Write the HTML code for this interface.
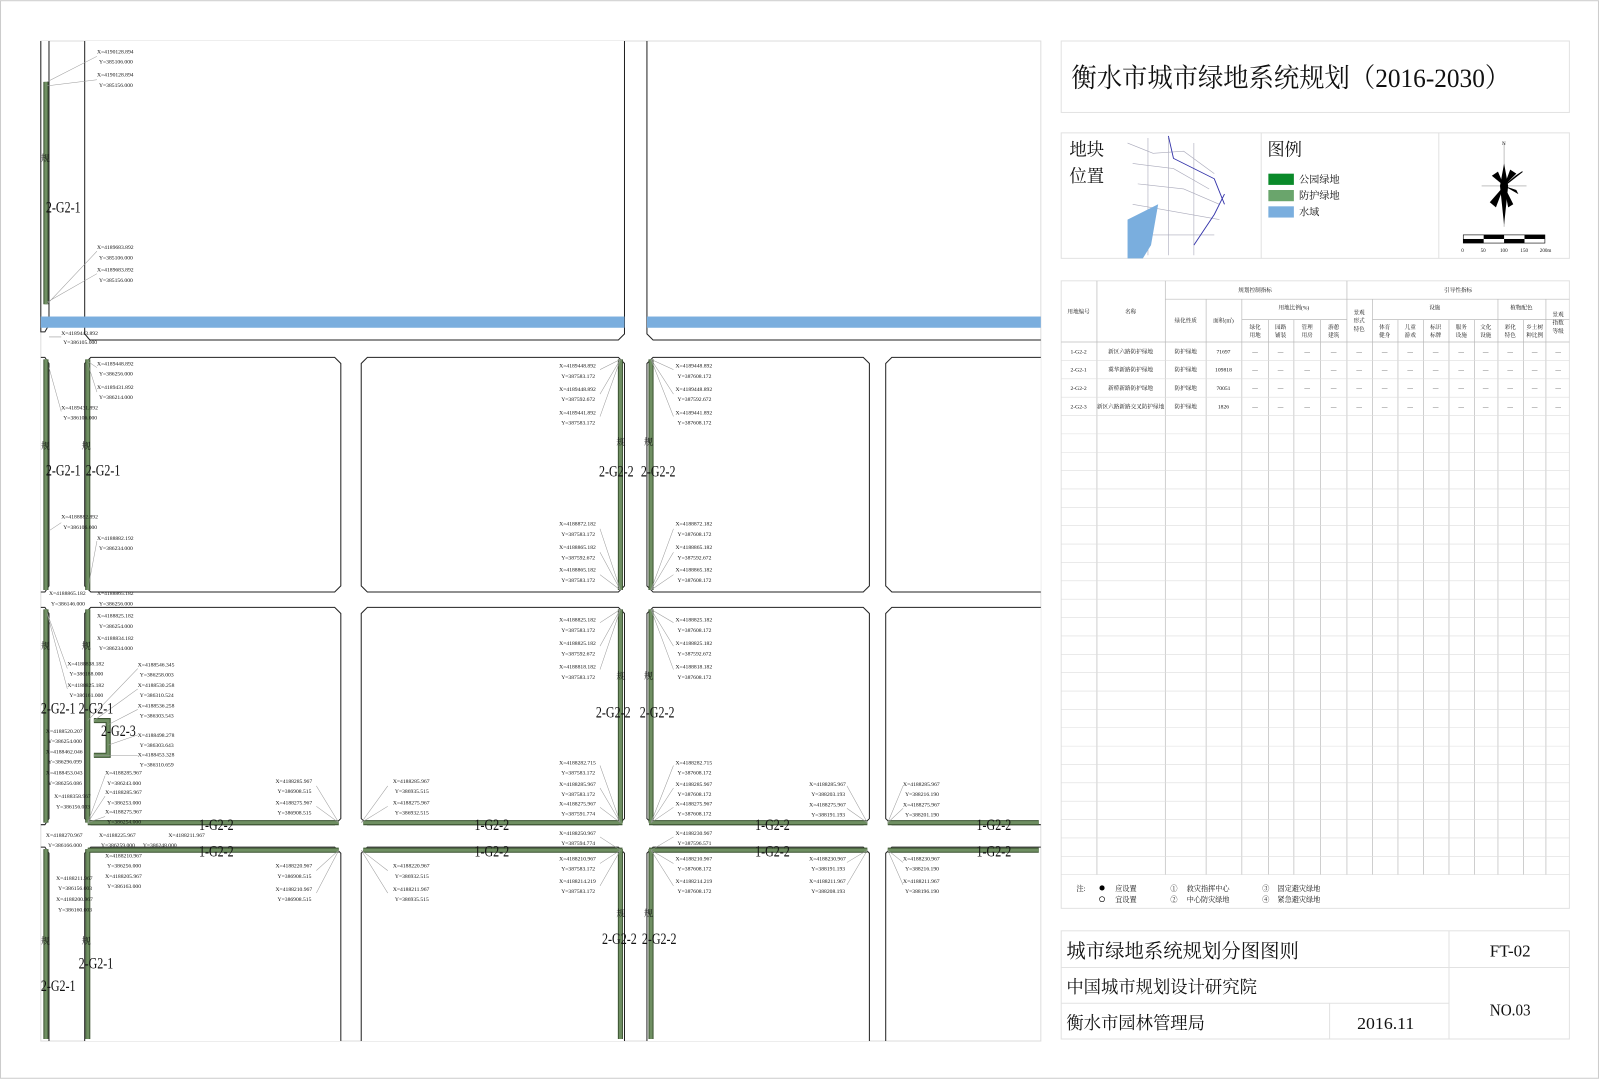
<!DOCTYPE html>
<html><head><meta charset="utf-8"><style>
html,body{margin:0;padding:0;background:#fff;}
svg{display:block;}
text{font-family:"Liberation Serif","Noto Serif CJK SC","Noto Sans CJK SC",serif;fill:#111;}
.c{font-size:5.5px;fill:#333;}
.lb{font-size:15px;}
.g{stroke:#3d5433;stroke-width:5;fill:none;}
.gi{stroke:#6f8f62;stroke-width:3;fill:none;}
.blk{fill:#fff;stroke:#222;stroke-width:1;}
.ld{stroke:#999;stroke-width:0.5;fill:none;}
.t{font-size:5.5px;fill:#333;text-anchor:middle;}
.tl{stroke:#bbb;stroke-width:0.7;}
</style></head><body>
<svg width="1600" height="1080" viewBox="0 0 1568 1058" xmlns="http://www.w3.org/2000/svg">
<rect x="0.5" y="0.5" width="1566" height="1056" fill="#fff" stroke="#ccc"/>
<rect x="40" y="40" width="980" height="980" fill="#fff" stroke="#ddd"/>

<path class="blk" d="M40 40 V325 H44 L48 318 V40"/>
<path class="blk" d="M83 40 V327 L88 333 H606 L612 327 V40"/>
<path class="blk" d="M634 40 V327 L640 333 H1020"/>
<rect x="40" y="310" width="572" height="11" fill="#7aaede"/>
<rect x="634" y="310" width="386" height="11" fill="#7aaede"/>

<path class="blk" d="M40 350 H44 L48 356 V574 L44 580 H40"/>
<path class="blk" d="M89 350 H328 L334 356 V574 L328 580 H89 L83 574 V356 Z"/>
<path class="blk" d="M360 350 H606 L612 356 V574 L606 580 H360 L354 574 V356 Z"/>
<path class="blk" d="M640 350 H846 L852 356 V574 L846 580 H640 L634 574 V356 Z"/>
<path class="blk" d="M1020 350 H874 L868 356 V574 L874 580 H1020"/>
<path class="blk" d="M40 595 H44 L48 601 V802 L44 808 H40"/>
<path class="blk" d="M89 595 H328 L334 601 V802 L328 808 H89 L83 802 V601 Z"/>
<path class="blk" d="M360 595 H606 L612 601 V802 L606 808 H360 L354 802 V601 Z"/>
<path class="blk" d="M640 595 H846 L852 601 V802 L846 808 H640 L634 802 V601 Z"/>
<path class="blk" d="M1020 595 H874 L868 601 V802 L874 808 H1020"/>
<path class="blk" d="M40 830 H44 L48 836 V1020"/>
<path class="blk" d="M83 1020 V836 L89 830 H328 L334 836 V1020"/>
<path class="blk" d="M354 1020 V836 L360 830 H606 L612 836 V1020"/>
<path class="blk" d="M634 1020 V836 L640 830 H846 L852 836 V1020"/>
<path class="blk" d="M868 1020 V836 L874 830 H1020"/>

<g>
<path class="g" d="M45 80 V298 M45 352 V578 M45 597 V806 M45 832 V1018 M86 352 V578 M86 597 V806 M86 832 V1018 M608 352 V578 M608 597 V806 M608 832 V1018 M638 352 V578 M638 597 V806 M638 832 V1018 M86 806 H332 M356 806 H610 M636 806 H850 M870 806 H1018 M86 833 H332 M356 833 H610 M636 833 H850 M870 833 H1018 M92 706 H106 V740 H92"/>
<path class="gi" d="M45 80 V298 M45 352 V578 M45 597 V806 M45 832 V1018 M86 352 V578 M86 597 V806 M86 832 V1018 M608 352 V578 M608 597 V806 M608 832 V1018 M638 352 V578 M638 597 V806 M638 832 V1018 M86 806 H332 M356 806 H610 M636 806 H850 M870 806 H1018 M86 833 H332 M356 833 H610 M636 833 H850 M870 833 H1018 M92 706 H106 V740 H92"/>
</g>

<g class="ld">
<path d="M46 80 L95 55 M46 84 L95 78 M46 298 L95 246 M46 296 L95 268"/>
<path d="M48 330 L60 330 M86 354 L95 360 M86 356 L95 384 M48 360 L60 403 M86 578 L95 530 M48 520 L60 512"/>
<path d="M608 352 L588 362 M608 352 L588 386 M608 352 L588 408 M638 352 L660 362 M638 352 L660 386 M638 352 L660 408"/>
<path d="M608 578 L588 518 M608 578 L588 541 M608 578 L588 563 M638 578 L660 518 M638 578 L660 541 M638 578 L660 563"/>
<path d="M608 597 L588 610 M608 597 L588 633 M608 597 L588 656 M638 597 L660 610 M638 597 L660 633 M638 597 L660 656"/>
<path d="M608 806 L588 750 M608 806 L588 772 M608 806 L588 791 M638 806 L660 750 M638 806 L660 772 M638 806 L660 791"/>
<path d="M608 833 L588 820 M608 833 L588 846 M608 833 L588 868 M638 833 L660 820 M638 833 L660 846 M638 833 L660 868"/>
<path d="M332 806 L310 770 M332 806 L310 790 M354 806 L380 770 M354 806 L380 790 M850 806 L830 770 M850 806 L830 792 M870 806 L885 770 M870 806 L885 792"/>
<path d="M332 833 L310 853 M332 833 L310 875 M354 833 L380 853 M354 833 L380 875 M850 833 L830 845 M850 833 L830 867 M870 833 L885 845 M870 833 L885 867"/>
<path d="M86 706 L135 655 M92 706 L135 675 M106 710 L135 695 M106 730 L135 720 M92 740 L135 740 M86 806 L103 760 M86 806 L103 780 M86 806 L103 800 M46 600 L66 655 M46 600 L66 675"/>
</g>

<g class="c">
<text x="95" y="52">X=4190128.894</text><text x="97" y="62">Y=385106.000</text>
<text x="95" y="75">X=4190128.894</text><text x="97" y="85">Y=385156.000</text>
<text x="95" y="244">X=4189683.892</text><text x="97" y="254">Y=385106.000</text>
<text x="95" y="266">X=4189683.892</text><text x="97" y="276">Y=385156.000</text>
<text x="60" y="328">X=4189443.892</text><text x="62" y="337">Y=386105.000</text>
<text x="95" y="358">X=4189448.892</text><text x="97" y="368">Y=386256.000</text>
<text x="95" y="381">X=4189431.892</text><text x="97" y="391">Y=386214.000</text>
<text x="60" y="401">X=4189431.892</text><text x="62" y="411">Y=386106.000</text>
<text x="60" y="508">X=4188882.892</text><text x="62" y="518">Y=386106.000</text>
<text x="95" y="529">X=4188882.192</text><text x="97" y="539">Y=386234.000</text>
<text x="48" y="583">X=4188865.182</text><text x="50" y="593">Y=386146.000</text>
<text x="95" y="583">X=4188865.182</text><text x="97" y="593">Y=386256.000</text>
<text x="548" y="360">X=4189448.892</text><text x="550" y="370">Y=387583.172</text>
<text x="548" y="383">X=4189448.892</text><text x="550" y="393">Y=387592.672</text>
<text x="548" y="406">X=4189441.892</text><text x="550" y="416">Y=387583.172</text>
<text x="662" y="360">X=4189448.892</text><text x="664" y="370">Y=387608.172</text>
<text x="662" y="383">X=4189448.892</text><text x="664" y="393">Y=387592.672</text>
<text x="662" y="406">X=4189441.892</text><text x="664" y="416">Y=387608.172</text>
<text x="548" y="515">X=4188872.182</text><text x="550" y="525">Y=387583.172</text>
<text x="548" y="538">X=4188865.182</text><text x="550" y="548">Y=387592.672</text>
<text x="548" y="560">X=4188865.182</text><text x="550" y="570">Y=387583.172</text>
<text x="662" y="515">X=4188872.182</text><text x="664" y="525">Y=387608.172</text>
<text x="662" y="538">X=4188865.182</text><text x="664" y="548">Y=387592.672</text>
<text x="662" y="560">X=4188865.182</text><text x="664" y="570">Y=387608.172</text>
<text x="95" y="605">X=4188825.182</text><text x="97" y="615">Y=386254.000</text>
<text x="95" y="627">X=4188834.182</text><text x="97" y="637">Y=386234.000</text>
<text x="66" y="652">X=4188838.182</text><text x="68" y="662">Y=386188.000</text>
<text x="66" y="673">X=4188825.182</text><text x="68" y="683">Y=386161.000</text>
<text x="135" y="653">X=4188546.345</text><text x="137" y="663">Y=386258.003</text>
<text x="135" y="673">X=4188530.258</text><text x="137" y="683">Y=386310.524</text>
<text x="135" y="693">X=4188536.258</text><text x="137" y="703">Y=386303.543</text>
<text x="135" y="722">X=4188498.278</text><text x="137" y="732">Y=386303.643</text>
<text x="135" y="741">X=4188453.328</text><text x="137" y="751">Y=386310.659</text>
<text x="45" y="718">X=4188520.207</text><text x="47" y="728">Y=386254.000</text>
<text x="45" y="738">X=4188462.046</text><text x="47" y="748">Y=386296.099</text>
<text x="45" y="759">X=4188453.043</text><text x="47" y="769">Y=386256.086</text>
<text x="53" y="782">X=4188358.967</text><text x="55" y="792">Y=386156.003</text>
<text x="103" y="759">X=4188285.967</text><text x="105" y="769">Y=386243.000</text>
<text x="103" y="778">X=4188285.967</text><text x="105" y="788">Y=386253.000</text>
<text x="103" y="797">X=4188275.967</text><text x="105" y="807">Y=386254.000</text>
<text x="270" y="767">X=4188285.967</text><text x="272" y="777">Y=386908.515</text>
<text x="270" y="788">X=4188275.967</text><text x="272" y="798">Y=386908.515</text>
<text x="385" y="767">X=4188285.967</text><text x="387" y="777">Y=386935.515</text>
<text x="385" y="788">X=4188275.967</text><text x="387" y="798">Y=386932.515</text>
<text x="548" y="609">X=4188825.182</text><text x="550" y="619">Y=387583.172</text>
<text x="548" y="632">X=4188825.182</text><text x="550" y="642">Y=387592.672</text>
<text x="548" y="655">X=4188818.182</text><text x="550" y="665">Y=387583.172</text>
<text x="662" y="609">X=4188825.182</text><text x="664" y="619">Y=387608.172</text>
<text x="662" y="632">X=4188825.182</text><text x="664" y="642">Y=387592.672</text>
<text x="662" y="655">X=4188818.182</text><text x="664" y="665">Y=387608.172</text>
<text x="548" y="749">X=4188282.715</text><text x="550" y="759">Y=387583.172</text>
<text x="548" y="770">X=4188285.967</text><text x="550" y="780">Y=387583.172</text>
<text x="548" y="789">X=4188275.967</text><text x="550" y="799">Y=387591.774</text>
<text x="662" y="749">X=4188282.715</text><text x="664" y="759">Y=387608.172</text>
<text x="662" y="770">X=4188285.967</text><text x="664" y="780">Y=387608.172</text>
<text x="662" y="789">X=4188275.967</text><text x="664" y="799">Y=387608.172</text>
<text x="793" y="770">X=4188285.967</text><text x="795" y="780">Y=388203.193</text>
<text x="793" y="790">X=4188275.967</text><text x="795" y="800">Y=388191.193</text>
<text x="885" y="770">X=4188285.967</text><text x="887" y="780">Y=388216.190</text>
<text x="885" y="790">X=4188275.967</text><text x="887" y="800">Y=388201.190</text>
<text x="45" y="820">X=4188270.967</text><text x="47" y="830">Y=386166.000</text>
<text x="97" y="820">X=4188225.967</text><text x="99" y="830">Y=386259.000</text>
<text x="165" y="820">X=4188211.967</text><text x="140" y="830">Y=386248.000</text>
<text x="103" y="840">X=4188210.967</text><text x="105" y="850">Y=386256.000</text>
<text x="103" y="860">X=4188205.967</text><text x="105" y="870">Y=386163.000</text>
<text x="55" y="862">X=4188211.967</text><text x="57" y="872">Y=386156.003</text>
<text x="55" y="883">X=4188200.967</text><text x="57" y="893">Y=386160.003</text>
<text x="270" y="850">X=4188220.967</text><text x="272" y="860">Y=386908.515</text>
<text x="270" y="873">X=4188210.967</text><text x="272" y="883">Y=386908.515</text>
<text x="385" y="850">X=4188220.967</text><text x="387" y="860">Y=386932.515</text>
<text x="385" y="873">X=4188211.967</text><text x="387" y="883">Y=386935.515</text>
<text x="548" y="818">X=4188250.967</text><text x="550" y="828">Y=387594.774</text>
<text x="548" y="843">X=4188210.967</text><text x="550" y="853">Y=387583.172</text>
<text x="548" y="865">X=4188214.219</text><text x="550" y="875">Y=387583.172</text>
<text x="662" y="818">X=4188230.967</text><text x="664" y="828">Y=387596.571</text>
<text x="662" y="843">X=4188210.967</text><text x="664" y="853">Y=387608.172</text>
<text x="662" y="865">X=4188214.219</text><text x="664" y="875">Y=387608.172</text>
<text x="793" y="843">X=4188230.967</text><text x="795" y="853">Y=388191.193</text>
<text x="793" y="865">X=4188211.967</text><text x="795" y="875">Y=388208.193</text>
<text x="885" y="843">X=4188230.967</text><text x="887" y="853">Y=388216.190</text>
<text x="885" y="865">X=4188211.967</text><text x="887" y="875">Y=388196.190</text>
</g>

<g class="lb">
<text x="45" y="208" textLength="34" lengthAdjust="spacingAndGlyphs">2-G2-1</text>
<text x="40" y="158" font-size="9">规</text>
<text x="45" y="466" textLength="34" lengthAdjust="spacingAndGlyphs">2-G2-1</text><text x="84" y="466" textLength="34" lengthAdjust="spacingAndGlyphs">2-G2-1</text>
<text x="40" y="440" font-size="9">规</text><text x="80" y="440" font-size="9">规</text>
<text x="40" y="699" textLength="34" lengthAdjust="spacingAndGlyphs">2-G2-1</text><text x="77" y="699" textLength="34" lengthAdjust="spacingAndGlyphs">2-G2-1</text>
<text x="99" y="721" textLength="34" lengthAdjust="spacingAndGlyphs">2-G2-3</text>
<text x="40" y="636" font-size="9">规</text><text x="80" y="636" font-size="9">规</text>
<text x="40" y="971" textLength="34" lengthAdjust="spacingAndGlyphs">2-G2-1</text><text x="77" y="949" textLength="34" lengthAdjust="spacingAndGlyphs">2-G2-1</text>
<text x="40" y="925" font-size="9">规</text><text x="80" y="925" font-size="9">规</text>
<text x="587" y="467" textLength="34" lengthAdjust="spacingAndGlyphs">2-G2-2</text><text x="628" y="467" textLength="34" lengthAdjust="spacingAndGlyphs">2-G2-2</text>
<text x="584" y="703" textLength="34" lengthAdjust="spacingAndGlyphs">2-G2-2</text><text x="627" y="703" textLength="34" lengthAdjust="spacingAndGlyphs">2-G2-2</text>
<text x="590" y="925" textLength="34" lengthAdjust="spacingAndGlyphs">2-G2-2</text><text x="629" y="925" textLength="34" lengthAdjust="spacingAndGlyphs">2-G2-2</text>
<text x="604" y="436" font-size="9">规</text><text x="631" y="436" font-size="9">规</text>
<text x="604" y="665" font-size="9">规</text><text x="631" y="665" font-size="9">规</text>
<text x="604" y="898" font-size="9">规</text><text x="631" y="898" font-size="9">规</text>
<text x="195" y="813" textLength="34" lengthAdjust="spacingAndGlyphs">1-G2-2</text><text x="195" y="839" textLength="34" lengthAdjust="spacingAndGlyphs">1-G2-2</text>
<text x="465" y="813" textLength="34" lengthAdjust="spacingAndGlyphs">1-G2-2</text><text x="465" y="839" textLength="34" lengthAdjust="spacingAndGlyphs">1-G2-2</text>
<text x="740" y="813" textLength="34" lengthAdjust="spacingAndGlyphs">1-G2-2</text><text x="740" y="839" textLength="34" lengthAdjust="spacingAndGlyphs">1-G2-2</text>
<text x="957" y="813" textLength="34" lengthAdjust="spacingAndGlyphs">1-G2-2</text><text x="957" y="839" textLength="34" lengthAdjust="spacingAndGlyphs">1-G2-2</text>
</g>

<rect x="1040" y="40" width="498" height="70" fill="#fff" stroke="#e2e2e2"/>
<text x="1050" y="85" font-size="26" textLength="430" lengthAdjust="spacingAndGlyphs">衡水市城市绿地系统规划（2016-2030）</text>

<rect x="1040" y="130" width="498" height="123" fill="#fff" stroke="#e2e2e2"/>
<line x1="1236" y1="130" x2="1236" y2="253" stroke="#e2e2e2"/>
<line x1="1410" y1="130" x2="1410" y2="253" stroke="#e2e2e2"/>
<text x="1048" y="152" font-size="17">地块</text>
<text x="1048" y="178" font-size="17">位置</text>
<g stroke="#aab" stroke-width="0.6" fill="none">
<path d="M1105 140 L1130 150 L1160 148 L1190 170 M1110 160 L1150 165 L1185 185 M1115 180 L1160 185 L1195 200 M1125 135 V250 M1145 135 V250 M1170 140 V250 M1110 200 L1195 215 M1108 230 L1190 230"/>
<path d="M1145 133 L1150 155 L1190 175 L1200 200 M1170 240 L1190 210 L1200 190" stroke="#33a" stroke-width="0.9"/>
</g>
<path d="M1105 215 L1135 200 L1128 240 L1120 253 L1105 253 Z" fill="#7aaede"/>
<text x="1242" y="152" font-size="17">图例</text>
<rect x="1243" y="170" width="25" height="11" fill="#0a8a2a"/>
<rect x="1243" y="186" width="25" height="11" fill="#6aa56c"/>
<rect x="1243" y="202" width="25" height="11" fill="#7aaede"/>
<text x="1273" y="179" font-size="10">公园绿地</text>
<text x="1273" y="195" font-size="10">防护绿地</text>
<text x="1273" y="211" font-size="10">水域</text>
<g>
<line x1="1474" y1="140" x2="1474" y2="222" stroke="#999" stroke-width="0.6"/>
<line x1="1452" y1="182" x2="1496" y2="182" stroke="#999" stroke-width="0.6"/>
<text x="1472" y="142" font-size="5">N</text>
<polygon points="1474,160 1478,182 1474,220 1470,182" fill="#000"/>
<polygon points="1474,182 1492,168 1486,172" fill="#000" stroke="#000"/>
<polygon points="1474,182 1466,203 1460,198" fill="#000"/>
<polygon points="1474,182 1462,172 1468,168" fill="#000"/>
<polygon points="1474,182 1488,190 1486,186" fill="#000"/>
<polygon points="1474,182 1483,200 1478,203" fill="#000"/>
<polygon points="1474,182 1480,166 1486,170" fill="#000"/>
</g>
<g>
<rect x="1434" y="230" width="80" height="8" fill="#fff" stroke="#000" stroke-width="0.6"/>
<rect x="1434" y="234" width="20" height="4" fill="#000"/>
<rect x="1454" y="230" width="20" height="4" fill="#000"/>
<rect x="1474" y="234" width="20" height="4" fill="#000"/>
<rect x="1494" y="230" width="20" height="4" fill="#000"/>
<text x="1432" y="247" font-size="5">0</text><text x="1451" y="247" font-size="5">50</text>
<text x="1470" y="247" font-size="5">100</text><text x="1490" y="247" font-size="5">150</text><text x="1509" y="247" font-size="5">200m</text>
</g>

<rect x="1040" y="275" width="498" height="615" fill="#fff" stroke="#e2e2e2"/>
<g class="tl">
<line x1="1040" y1="335" x2="1538" y2="335"/>
<line x1="1142" y1="293" x2="1538" y2="293"/>
<line x1="1217" y1="313" x2="1320" y2="313"/>
<line x1="1345" y1="313" x2="1538" y2="313"/>
<line x1="1075" y1="275" x2="1075" y2="857"/>
<line x1="1142" y1="275" x2="1142" y2="857"/>
<line x1="1320" y1="275" x2="1320" y2="857"/>
<line x1="1182" y1="293" x2="1182" y2="857"/>
<line x1="1217" y1="293" x2="1217" y2="857"/>
<line x1="1345" y1="293" x2="1345" y2="857"/>
<line x1="1468" y1="293" x2="1468" y2="857"/>
<line x1="1515" y1="293" x2="1515" y2="857"/>
<line x1="1243" y1="313" x2="1243" y2="857"/>
<line x1="1268" y1="313" x2="1268" y2="857"/>
<line x1="1294" y1="313" x2="1294" y2="857"/>
<line x1="1370" y1="313" x2="1370" y2="857"/>
<line x1="1395" y1="313" x2="1395" y2="857"/>
<line x1="1420" y1="313" x2="1420" y2="857"/>
<line x1="1445" y1="313" x2="1445" y2="857"/>
<line x1="1493" y1="313" x2="1493" y2="857"/>
</g>
<g stroke="#ddd" stroke-width="0.6">
<line x1="1040" y1="353" x2="1538" y2="353"/><line x1="1040" y1="371" x2="1538" y2="371"/>
<line x1="1040" y1="389" x2="1538" y2="389"/><line x1="1040" y1="407" x2="1538" y2="407"/>
<line x1="1040" y1="425" x2="1538" y2="425"/><line x1="1040" y1="443" x2="1538" y2="443"/>
<line x1="1040" y1="461" x2="1538" y2="461"/><line x1="1040" y1="479" x2="1538" y2="479"/>
<line x1="1040" y1="497" x2="1538" y2="497"/><line x1="1040" y1="515" x2="1538" y2="515"/>
<line x1="1040" y1="533" x2="1538" y2="533"/><line x1="1040" y1="551" x2="1538" y2="551"/>
<line x1="1040" y1="569" x2="1538" y2="569"/><line x1="1040" y1="587" x2="1538" y2="587"/>
<line x1="1040" y1="605" x2="1538" y2="605"/><line x1="1040" y1="623" x2="1538" y2="623"/>
<line x1="1040" y1="641" x2="1538" y2="641"/><line x1="1040" y1="659" x2="1538" y2="659"/>
<line x1="1040" y1="677" x2="1538" y2="677"/><line x1="1040" y1="695" x2="1538" y2="695"/>
<line x1="1040" y1="713" x2="1538" y2="713"/><line x1="1040" y1="731" x2="1538" y2="731"/>
<line x1="1040" y1="749" x2="1538" y2="749"/><line x1="1040" y1="767" x2="1538" y2="767"/>
<line x1="1040" y1="785" x2="1538" y2="785"/><line x1="1040" y1="803" x2="1538" y2="803"/>
<line x1="1040" y1="821" x2="1538" y2="821"/><line x1="1040" y1="839" x2="1538" y2="839"/>
<line x1="1040" y1="857" x2="1538" y2="857"/>
</g>
<g class="t">
<text x="1230" y="286">规划控制指标</text><text x="1429" y="286">引导性指标</text>
<text x="1057" y="307">用地编号</text><text x="1108" y="307">名称</text>
<text x="1162" y="316">绿化性质</text><text x="1199" y="316">面积(㎡)</text>
<text x="1268" y="303">用地比例(%)</text><text x="1406" y="303">设施</text><text x="1491" y="303">植物配色</text>
<text x="1332" y="308">景观</text><text x="1332" y="316">形式</text><text x="1332" y="324">特色</text>
<text x="1527" y="310">景观</text><text x="1527" y="318">指数</text><text x="1527" y="326">等级</text>
<text x="1230" y="322">绿化</text><text x="1230" y="330">用地</text>
<text x="1255" y="322">园路</text><text x="1255" y="330">铺装</text>
<text x="1281" y="322">管理</text><text x="1281" y="330">用房</text>
<text x="1307" y="322">游憩</text><text x="1307" y="330">建筑</text>
<text x="1357" y="322">体育</text><text x="1357" y="330">健身</text>
<text x="1382" y="322">儿童</text><text x="1382" y="330">游戏</text>
<text x="1407" y="322">标识</text><text x="1407" y="330">标牌</text>
<text x="1432" y="322">服务</text><text x="1432" y="330">设施</text>
<text x="1456" y="322">文化</text><text x="1456" y="330">设施</text>
<text x="1480" y="322">彩化</text><text x="1480" y="330">特色</text>
<text x="1504" y="322">乡土树</text><text x="1504" y="330">种比例</text>
<text x="1057" y="346">1-G2-2</text><text x="1108" y="346">新区六路防护绿地</text><text x="1162" y="346">防护绿地</text><text x="1199" y="346">71697</text>
<text x="1057" y="364">2-G2-1</text><text x="1108" y="364">冀华新路防护绿地</text><text x="1162" y="364">防护绿地</text><text x="1199" y="364">109818</text>
<text x="1057" y="382">2-G2-2</text><text x="1108" y="382">新桥新路防护绿地</text><text x="1162" y="382">防护绿地</text><text x="1199" y="382">70051</text>
<text x="1057" y="400">2-G2-3</text><text x="1108" y="400">新区六路新路交叉防护绿地</text><text x="1162" y="400">防护绿地</text><text x="1199" y="400">1826</text>
</g>
<g class="t">
<text x="1230" y="346">—</text><text x="1255" y="346">—</text><text x="1281" y="346">—</text><text x="1307" y="346">—</text><text x="1332" y="346">—</text><text x="1357" y="346">—</text><text x="1382" y="346">—</text><text x="1407" y="346">—</text><text x="1432" y="346">—</text><text x="1456" y="346">—</text><text x="1480" y="346">—</text><text x="1504" y="346">—</text><text x="1527" y="346">—</text>
<text x="1230" y="364">—</text><text x="1255" y="364">—</text><text x="1281" y="364">—</text><text x="1307" y="364">—</text><text x="1332" y="364">—</text><text x="1357" y="364">—</text><text x="1382" y="364">—</text><text x="1407" y="364">—</text><text x="1432" y="364">—</text><text x="1456" y="364">—</text><text x="1480" y="364">—</text><text x="1504" y="364">—</text><text x="1527" y="364">—</text>
<text x="1230" y="382">—</text><text x="1255" y="382">—</text><text x="1281" y="382">—</text><text x="1307" y="382">—</text><text x="1332" y="382">—</text><text x="1357" y="382">—</text><text x="1382" y="382">—</text><text x="1407" y="382">—</text><text x="1432" y="382">—</text><text x="1456" y="382">—</text><text x="1480" y="382">—</text><text x="1504" y="382">—</text><text x="1527" y="382">—</text>
<text x="1230" y="400">—</text><text x="1255" y="400">—</text><text x="1281" y="400">—</text><text x="1307" y="400">—</text><text x="1332" y="400">—</text><text x="1357" y="400">—</text><text x="1382" y="400">—</text><text x="1407" y="400">—</text><text x="1432" y="400">—</text><text x="1456" y="400">—</text><text x="1480" y="400">—</text><text x="1504" y="400">—</text><text x="1527" y="400">—</text>
</g>
<g font-size="7">
<text x="1055" y="873">注:</text>
<circle cx="1080" cy="870" r="2.5" fill="#000"/><text x="1093" y="873">应设置</text>
<circle cx="1080" cy="881" r="2.5" fill="none" stroke="#000" stroke-width="0.6"/><text x="1093" y="884">宜设置</text>
<text x="1147" y="873">①</text><text x="1163" y="873">救灾指挥中心</text>
<text x="1147" y="884">②</text><text x="1163" y="884">中心防灾绿地</text>
<text x="1237" y="873">③</text><text x="1252" y="873">固定避灾绿地</text>
<text x="1237" y="884">④</text><text x="1252" y="884">紧急避灾绿地</text>
</g>

<rect x="1040" y="912" width="498" height="106" fill="#fff" stroke="#e2e2e2"/>
<g stroke="#e2e2e2">
<line x1="1040" y1="948" x2="1420" y2="948"/>
<line x1="1040" y1="983" x2="1420" y2="983"/>
<line x1="1420" y1="948" x2="1538" y2="948"/>
<line x1="1420" y1="912" x2="1420" y2="1018"/>
<line x1="1303" y1="983" x2="1303" y2="1018"/>
</g>
<text x="1045" y="938" font-size="19">城市绿地系统规划分图图则</text>
<text x="1045" y="973" font-size="17">中国城市规划设计研究院</text>
<text x="1045" y="1008" font-size="17">衡水市园林管理局</text>
<text x="1330" y="1008" font-size="16" textLength="56" lengthAdjust="spacingAndGlyphs">2016.11</text>
<text x="1460" y="937" font-size="16" textLength="40" lengthAdjust="spacingAndGlyphs">FT-02</text>
<text x="1460" y="995" font-size="16" textLength="40" lengthAdjust="spacingAndGlyphs">NO.03</text>
</svg>
</body></html>
